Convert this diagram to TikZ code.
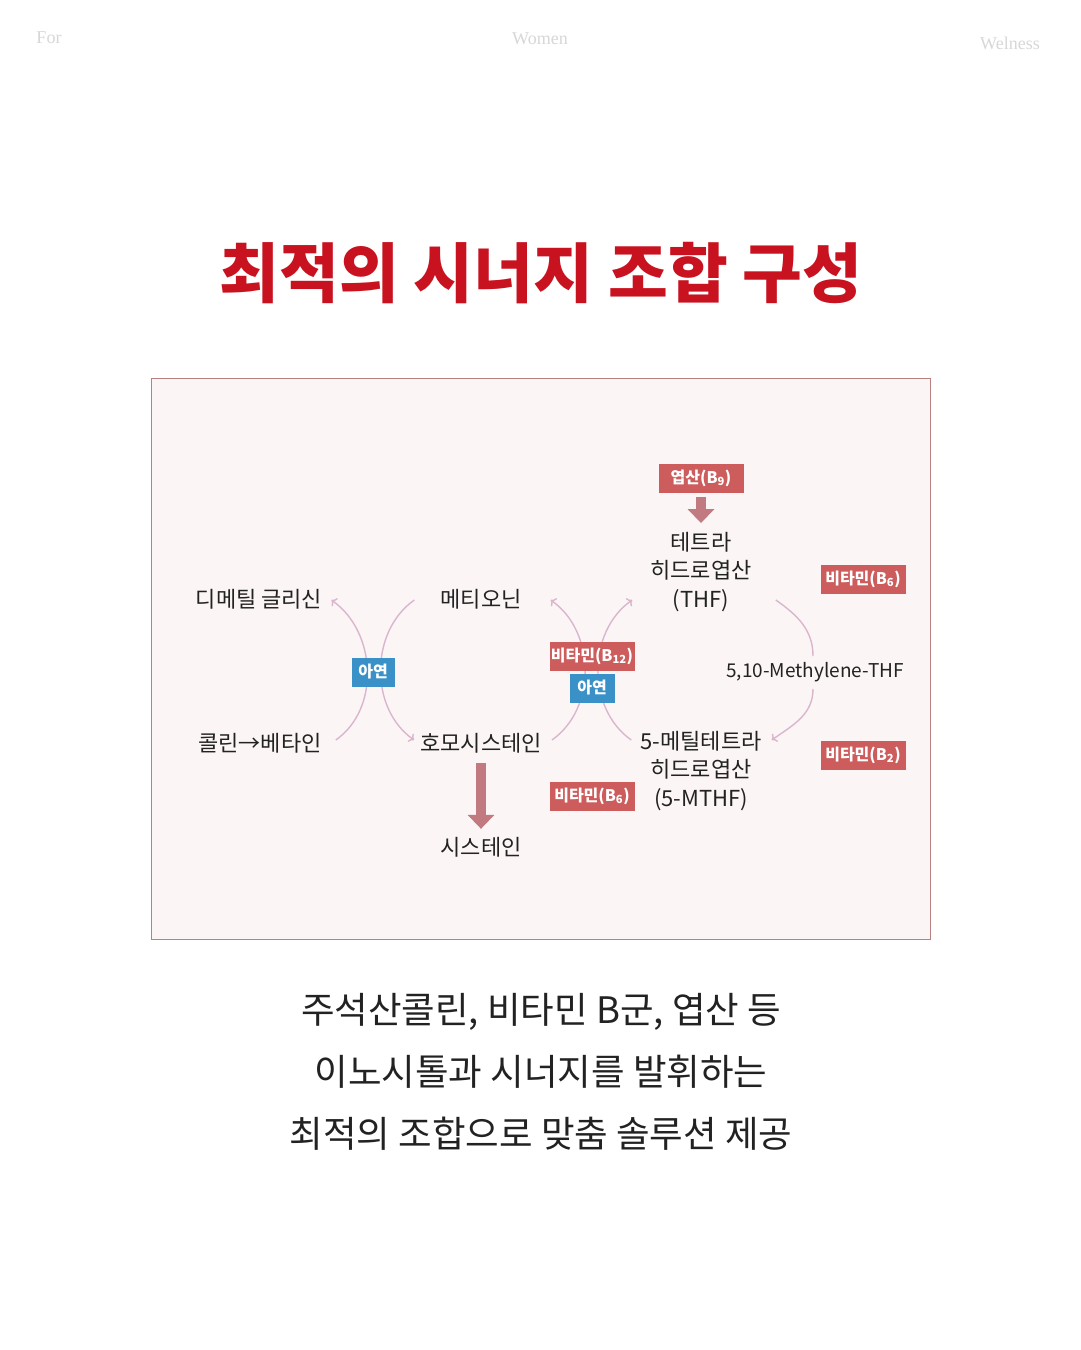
\documentclass[tikz,border=0pt]{standalone}
\usepackage{fontspec}
\setmainfont{Noto Sans CJK KR}
\newfontfamily\headfont{Liberation Serif}
\usepackage{xcolor}
\usetikzlibrary{arrows.meta,positioning,calc}

\definecolor{titlered}{RGB}{200,18,32}
\definecolor{ink}{RGB}{34,34,34}
\definecolor{tagred}{RGB}{205,92,92}
\definecolor{zincblue}{RGB}{58,145,200}
\definecolor{flowpink}{RGB}{218,182,206}
\definecolor{arrowrose}{RGB}{192,122,128}
\definecolor{panelfill}{RGB}{251,245,245}
\definecolor{panelline}{RGB}{185,128,128}
\definecolor{headgray}{RGB}{215,215,215}

\begin{document}
\begin{tikzpicture}[
    x=1pt, y=-1pt,
    head/.style={font=\headfont\fontsize{18}{20}\selectfont, text=headgray, inner sep=0pt},
    txt/.style={font=\fontsize{22}{28.5}\selectfont, text=ink, align=center, inner sep=0pt},
    tag/.style={rectangle, fill=tagred, text=white, font=\fontsize{16}{18}\selectfont\bfseries, minimum width=85pt, minimum height=29pt, inner sep=0pt},
    zinc/.style={tag, fill=zincblue, minimum width=45pt},
    flow/.style={->, draw=flowpink, line width=1.4pt},
    bigarrow/.style={-{Triangle[length=14pt,width=26pt]}, draw=arrowrose, line width=10pt}
]
\useasboundingbox[fill=white] (0,0) rectangle (1080,1350);

% header
\node[head] (h-for) at (49,38) {For};
\node[head] (h-women) at (540,39) {Women};
\node[head] (h-well) at (1010,43) {Welness};

% title
\node[font=\fontsize{65}{70}\selectfont\bfseries, text=titlered, inner sep=0pt] (title) at (541,273) {최적의 시너지 조합 구성};

% panel
\node[draw=panelline, fill=panelfill, line width=0.8pt, minimum width=779pt, minimum height=561pt, inner sep=0pt] (panel) at (540.5,658.5) {};

% compounds
\node[txt] (dmg) at (259,599) {디메틸 글리신};
\node[txt] (met) at (481,599) {메티오닌};
\node[txt] (chol) at (260,743) {콜린→베타인};
\node[txt] (hcy) at (481,743) {호모시스테인};
\node[txt] (cys) at (481,847) {시스테인};
\node[txt] (thf) at (701,572) {테트라\\히드로엽산\\(THF)};
\node[txt] (mthf) at (701,771) {5-메틸테트라\\히드로엽산\\(5-MTHF)};
\node[txt, font=\fontsize{19}{22}\selectfont] (methylene) at (815,672) {5,10-Methylene-THF};

% cofactors
\node[tag] (folate) at (701,478) {엽산(B\textsubscript{9})};

% cycle arrows
\draw[flow] ([shift={(14,-3)}]chol.east) to[out=35,in=-35] ([shift={(9,1)}]dmg.east);
\draw[flow] ([shift={(-26,1)}]met.west) to[out=215,in=145] ([shift={(-6,-3)}]hcy.west);
\draw[flow] ([shift={(10,-3)}]hcy.east) to[out=35,in=-35] ([shift={(29,1)}]met.east);
\draw[flow] ([shift={(-9,-31)}]mthf.west) to[out=145,in=-145] ([shift={(-18,28)}]thf.west);
\draw[-, flowpink, line width=1.4pt] ([shift={(24,28)}]thf.east) to[out=-35,in=90] ([shift={(-2,-6)}]methylene.north);
\draw[flow] ([shift={(-2,7)}]methylene.south) to[out=-90,in=35] ([shift={(10,-31)}]mthf.east);

% block arrows
\draw[bigarrow] ([yshift=-4pt]folate.south) -- ([yshift=9pt]thf.north);
\draw[bigarrow] ([yshift=-10pt]hcy.south) -- ([yshift=8pt]cys.north);

% cofactor tags over the crossings
\node[tag] (b6-top) at (863,579) {비타민(B\textsubscript{6})};
\node[tag] (b12) at (592,656) {비타민(B\textsubscript{12})};
\node[zinc] (zinc-mid) at (592,688) {아연};
\node[zinc, minimum width=43pt] (zinc-left) at (373,672) {아연};
\node[tag] (b6-low) at (592,796) {비타민(B\textsubscript{6})};
\node[tag] (b2) at (863,755) {비타민(B\textsubscript{2})};

% caption
\node[font=\fontsize{36.5}{62}\selectfont, text=ink, align=center, inner sep=0pt] (caption) at (541,1072) {주석산콜린, 비타민 B군, 엽산 등\\이노시톨과 시너지를 발휘하는\\최적의 조합으로 맞춤 솔루션 제공};

\end{tikzpicture}
\end{document}
